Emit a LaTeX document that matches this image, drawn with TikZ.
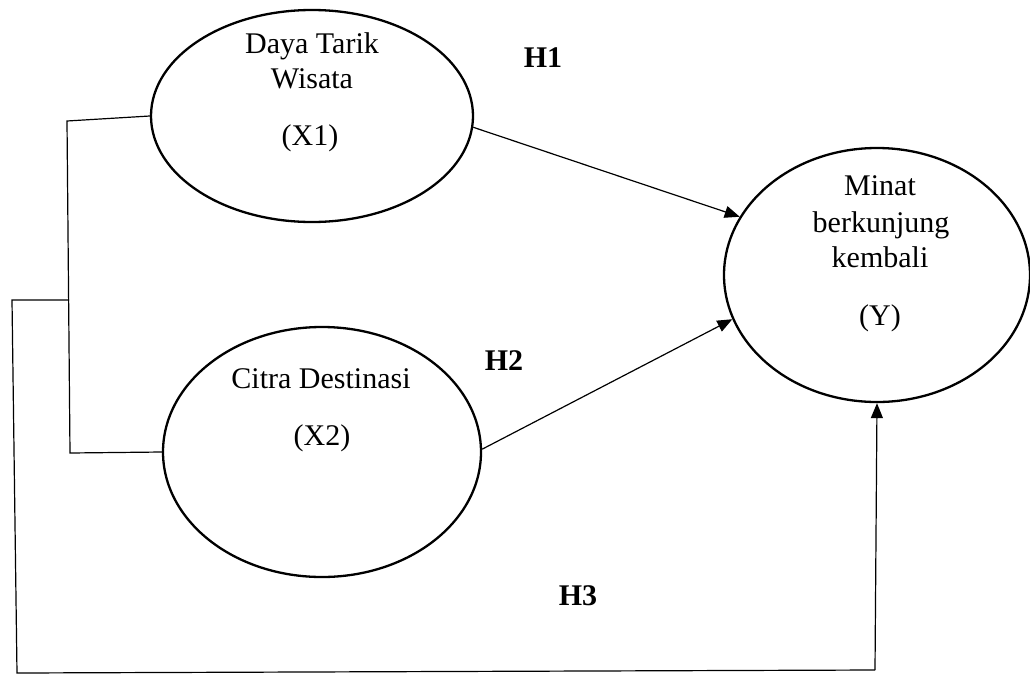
\documentclass[tikz,border=0pt]{standalone}
\usepackage{fontspec}
\setmainfont{Liberation Serif}
\usetikzlibrary{shapes.geometric,arrows.meta}
\tikzset{
  latent/.style={ellipse, draw, line width=2.3pt, inner sep=0pt},
  lbl/.style={anchor=base, inner sep=0pt, font=\fontsize{30}{34}\selectfont},
  hyp/.style={anchor=base, inner sep=0pt, font=\fontsize{30}{34}\selectfont\bfseries},
  conn/.style={line width=1.2pt},
  arr/.style={line width=1.2pt, -{Triangle[length=15pt,width=12pt]}}
}
\begin{document}
\begin{tikzpicture}[x=1pt,y=-1pt]
\useasboundingbox (0,0) rectangle (1030,675);
% latent variables
\node[latent, minimum width=322pt, minimum height=212pt] (x1) at (312,116) {};
\node[latent, minimum width=318pt, minimum height=250pt] (x2) at (322,452) {};
\node[latent, minimum width=306pt, minimum height=254pt] (y) at (877,275) {};
% texts
\node[lbl] (t1a) at (312,53) {Daya Tarik};
\node[lbl] (t1b) at (312,88) {Wisata};
\node[lbl] (t1c) at (310,145) {(X1)};
\node[lbl] (t2a) at (321,388) {Citra Destinasi};
\node[lbl] (t2b) at (322,445) {(X2)};
\node[lbl] (t3a) at (880,195) {Minat};
\node[lbl] (t3b) at (881,232) {berkunjung};
\node[lbl] (t3c) at (880,267) {kembali};
\node[lbl] (t3d) at (880,325) {(Y)};
\node[hyp] (h1) at (543,67) {H1};
\node[hyp] (h2) at (504,370) {H2};
\node[hyp] (h3) at (578,605) {H3};
% bracket connectors
\coordinate (a) at (67,121);
\coordinate (b) at (70,453);
\coordinate (c) at (69,300);
\coordinate (d) at (12,300);
\coordinate (e) at (17,673);
\coordinate (f) at (875,670);
\draw[conn] (x1.west) -- (a) -- (b) -- (x2.west);
\draw[conn] (c) -- (d) -- (e) -- (f);
\draw[arr] (f) -- (y.south);
% arrows
\draw[arr] (x1.-4) -- (y.157);
\draw[arr] (x2.1) -- (y.197);
\end{tikzpicture}
\end{document}
